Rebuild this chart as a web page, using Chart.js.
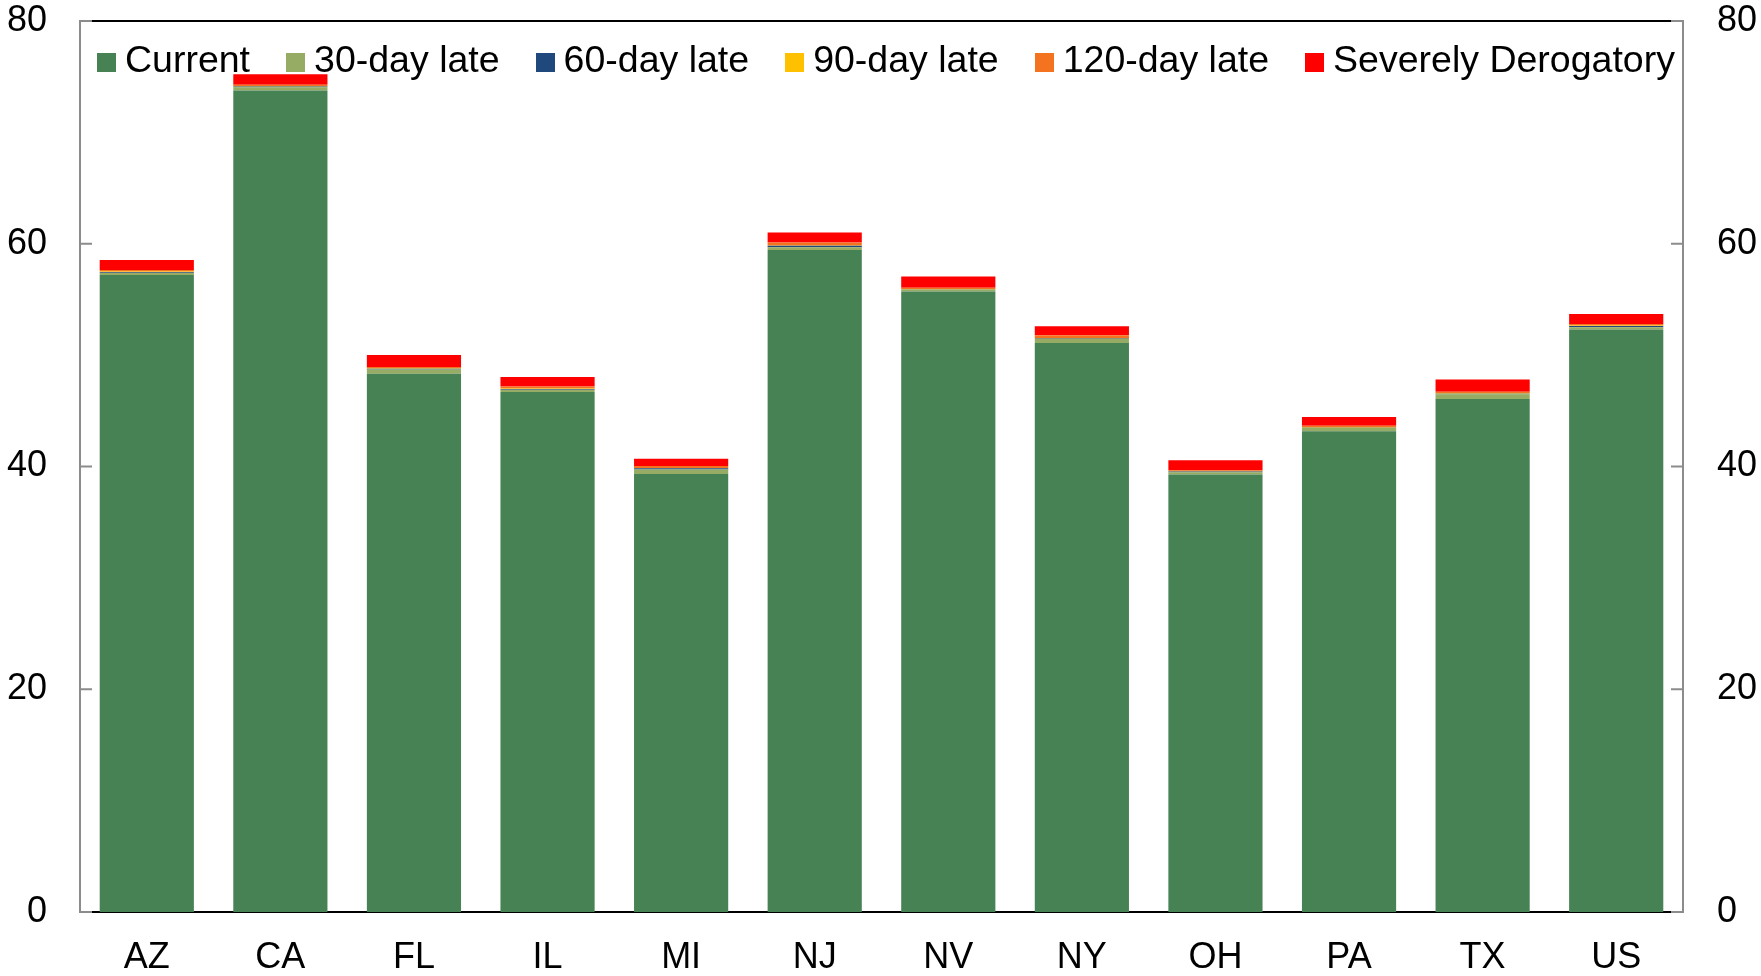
<!DOCTYPE html>
<html>
<head>
<meta charset="utf-8">
<script src="https://cdn.jsdelivr.net/npm/chart.js@4.4.1/dist/chart.umd.min.js"></script>
<style>
    html, body { margin: 0; padding: 0; background: #fff; }
    #wrap { position: relative; width: 1761px; height: 976px; }
    #legend {
        position: absolute; left: 97px; top: 41px;
        font-family: 'Liberation Sans', Arial, sans-serif; font-size: 37.5px; line-height: 36px;
        color: #000; white-space: nowrap;
    }
    #legend .item { display: inline-block; margin-right: 36px; }
    #legend .box { display: inline-block; width: 19px; height: 19px; margin-right: 9px; vertical-align: baseline; }
</style>
</head>
<body>
<div id="wrap">
    <canvas id="chart"></canvas>
    <div id="legend"></div>
</div>
<script>
// datos
const states = ['AZ', 'CA', 'FL', 'IL', 'MI', 'NJ', 'NV', 'NY', 'OH', 'PA', 'TX', 'US'];
const current   = [57.2, 73.75, 48.33, 46.68, 39.33, 59.45, 55.71, 51.08, 39.28, 43.16, 46.06, 52.3];
const late30    = [0.18, 0.3, 0.39, 0.21, 0.39, 0.24, 0.15, 0.36, 0.2, 0.3, 0.42, 0.2];
const late60    = [0.07, 0.06, 0.05, 0.06, 0.12, 0.12, 0.04, 0.06, 0.06, 0.03, 0.05, 0.12];
const late90    = [0.05, 0.06, 0.05, 0.06, 0.02, 0.03, 0.04, 0.04, 0.03, 0.03, 0.04, 0.03];
const late120   = [0.15, 0.1, 0.12, 0.18, 0.18, 0.27, 0.12, 0.24, 0.1, 0.15, 0.14, 0.15];
const severe    = [0.9, 0.96, 1.08, 0.84, 0.66, 0.9, 1.0, 0.81, 0.9, 0.78, 1.1, 0.9];
const yTicks = [0, 20, 40, 60, 80];

const GRAY = '#8c8c8c';

Chart.defaults.font.family = "'Liberation Sans', Arial, sans-serif";
Chart.defaults.font.size = 36;
Chart.defaults.color = '#000';

const mkSet = (label, data, color) => ({
    label, data, backgroundColor: color, borderWidth: 0,
    barPercentage: 0.705, categoryPercentage: 1.0
});

const datasets = [
    mkSet('Current', current, '#478255'),
    mkSet('30-day late', late30, '#96ac64'),
    mkSet('60-day late', late60, '#1f497d'),
    mkSet('90-day late', late90, '#ffc000'),
    mkSet('120-day late', late120, '#f4731f'),
    mkSet('Severely Derogatory', severe, '#ff0000')
];

// marco: línea superior negra y marcas de eje hacia dentro
const framePlugin = {
    id: 'frame',
    afterDraw(chart) {
        const { ctx, chartArea: a } = chart;
        ctx.save();
        ctx.lineWidth = 2;
        ctx.strokeStyle = '#000';
        ctx.beginPath();
        ctx.moveTo(a.left, a.top);
        ctx.lineTo(a.right, a.top);
        ctx.stroke();
        ctx.strokeStyle = GRAY;
        yTicks.forEach(v => {
            const yl = chart.scales.y.getPixelForValue(v);
            const yr = chart.scales.y2.getPixelForValue(v);
            ctx.beginPath();
            ctx.moveTo(a.left, yl); ctx.lineTo(a.left + 12, yl);
            ctx.moveTo(a.right - 12, yr); ctx.lineTo(a.right, yr);
            ctx.stroke();
        });
        ctx.restore();
    }
};

const yAxis = (position, width, padding) => ({
    position, min: 0, max: 80,
    stacked: true,
    ticks: { stepSize: 20, padding },
    grid: { display: false, drawTicks: false },
    border: { color: GRAY, width: 2 },
    afterFit: (scale) => {
        scale.width = width;
        scale.paddingTop = 0;
        scale.paddingBottom = 0;
    }
});

const chart = new Chart(document.getElementById('chart'), {
    type: 'bar',
    data: { labels: states, datasets },
    options: {
        responsive: true,
        maintainAspectRatio: false,
        animation: false,
        layout: { padding: { top: 21, right: 0, left: 0, bottom: 0 } },
        plugins: { legend: { display: false }, tooltip: { enabled: false } },
        scales: {
            x: {
                stacked: true,
                grid: { display: false, drawTicks: false },
                border: { color: '#000', width: 2 },
                ticks: { padding: 24, maxRotation: 0 },
                afterFit: (scale) => {
                    scale.height = 64;
                    scale.paddingLeft = 0;
                    scale.paddingRight = 0;
                }
            },
            y: yAxis('left', 80, 33),
            y2: yAxis('right', 78, 34)
        }
    },
    plugins: [framePlugin]
});

// leyenda en HTML dentro del área del gráfico
const legend = document.getElementById('legend');
chart.data.datasets.forEach(ds => {
    const item = document.createElement('span');
    item.className = 'item';
    const box = document.createElement('span');
    box.className = 'box';
    box.style.background = ds.backgroundColor;
    item.appendChild(box);
    item.appendChild(document.createTextNode(ds.label));
    legend.appendChild(item);
});
</script>
</body>
</html>
